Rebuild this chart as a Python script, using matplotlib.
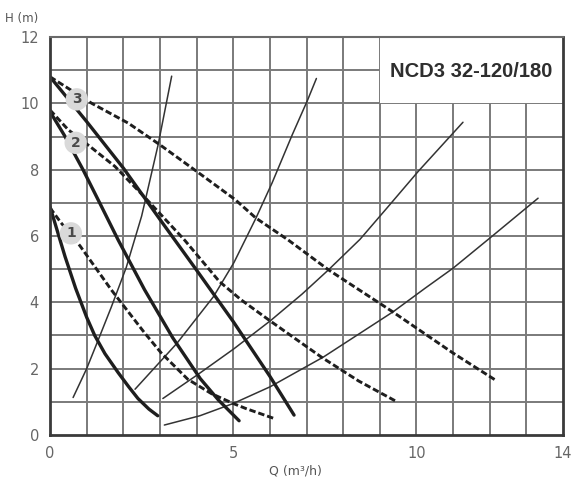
import matplotlib
matplotlib.use("Agg")
import matplotlib.pyplot as plt
from matplotlib.patches import Rectangle

# ---- data ----
x_ticks = [0, 5, 10, 14]
y_ticks = [0, 2, 4, 6, 8, 10, 12]
title_text = "NCD3 32-120/180"

# thick solid pump curves (speed 1, 2, 3)
s1_q = [0, 0.2, 0.41, 0.7, 1.0, 1.22, 1.5, 1.86, 2.15, 2.4, 2.7, 2.94]
s1_h = [6.88, 6.15, 5.38, 4.42, 3.55, 3.0, 2.45, 1.88, 1.45, 1.1, 0.78, 0.58]
s2_q = [0, 0.4, 0.9, 1.4, 1.86, 2.58, 3.35, 4.1, 4.6, 5.16]
s2_h = [9.75, 9.02, 8.0, 6.9, 5.88, 4.38, 2.93, 1.7, 1.05, 0.43]
s3_q = [0, 1.0, 2.0, 3.0, 4.0, 5.0, 6.0, 6.66]
s3_h = [10.8, 9.45, 8.05, 6.5, 4.97, 3.42, 1.77, 0.6]

# dashed curves
d1_q = [0, 0.3, 0.82, 1.67, 2.58, 3.03, 3.76, 4.4, 5.0, 5.34, 6.16]
d1_h = [6.85, 6.4, 5.7, 4.38, 3.08, 2.48, 1.68, 1.25, 0.95, 0.8, 0.48]
d2_q = [0, 0.5, 1.09, 1.77, 2.6, 3.67, 4.62, 5.21, 6.02, 7.43, 8.42, 9.42]
d2_h = [9.8, 9.2, 8.7, 8.1, 7.15, 5.88, 4.63, 4.08, 3.43, 2.33, 1.63, 1.03]
d3_q = [0, 1.14, 2.14, 3.0, 4.0, 5.05, 5.62, 6.5, 7.6, 9.33, 11.0, 12.15]
d3_h = [10.8, 10.0, 9.4, 8.75, 7.95, 7.1, 6.54, 5.88, 4.98, 3.73, 2.47, 1.66]

# thin system curves
a_q = [0.63, 1.0, 1.31, 1.67, 2.08, 2.5, 2.95, 3.32]
a_h = [1.13, 2.0, 2.85, 3.85, 5.05, 6.6, 8.75, 10.82]
b_q = [2.32, 3.46, 4.46, 5.02, 5.62, 6.06, 6.61, 7.03, 7.27]
b_h = [1.38, 2.76, 4.17, 5.2, 6.54, 7.6, 9.05, 10.1, 10.75]
c_q = [3.08, 4.03, 5.02, 6.02, 6.88, 7.6, 8.46, 9.2, 10.05, 11.27]
c_h = [1.1, 1.82, 2.6, 3.45, 4.25, 4.98, 5.9, 6.85, 7.95, 9.43]
e_q = [3.12, 4.09, 5.0, 6.0, 7.46, 9.37, 10.23, 11.0, 12.05, 13.32]
e_h = [0.3, 0.58, 0.95, 1.45, 2.35, 3.72, 4.42, 5.03, 5.98, 7.14]

# speed labels
lab_txt = ["1", "2", "3"]
lab_q = [0.57, 0.7, 0.73]
lab_h = [6.08, 8.81, 10.12]

# ---- figure ----
fig = plt.figure(figsize=(5.71, 4.87), dpi=100)
ax = fig.add_axes([0.0876, 0.1068, 0.8984, 0.8172])
ax.set_xlim(0, 14)
ax.set_ylim(0, 12)

grid_c = "#7a7a7a"
for v in range(1, 14):
    ax.axvline(v, color=grid_c, lw=1.4, zorder=1)
for v in range(1, 12):
    ax.axhline(v, color=grid_c, lw=1.4, zorder=1)

# white title box covering the grid
ax.add_patch(Rectangle((9, 10), 5, 2, facecolor="white", edgecolor="none", zorder=2))
ax.text(11.5, 10.95, title_text, ha="center", va="center", fontsize=14.5,
        fontweight="bold", color="#2e2e2e",
        family=["Liberation Sans", "DejaVu Sans"], zorder=6)

line_c = "#1e1e1e"
thin_c = "#333333"
for q, h in [(a_q, a_h), (b_q, b_h), (c_q, c_h), (e_q, e_h)]:
    ax.plot(q, h, color=thin_c, lw=1.1, zorder=3, solid_capstyle="round",
            solid_joinstyle="round")
for q, h in [(d1_q, d1_h), (d2_q, d2_h), (d3_q, d3_h)]:
    ax.plot(q, h, color=line_c, lw=2.1, ls=(0, (2.2, 1.0)), zorder=4)
for q, h in [(s1_q, s1_h), (s2_q, s2_h), (s3_q, s3_h)]:
    ax.plot(q, h, color=line_c, lw=2.4, zorder=4, solid_capstyle="round",
            solid_joinstyle="round")

for t, q, h in zip(lab_txt, lab_q, lab_h):
    ax.text(q, h, t, ha="center", va="center", fontsize=10, fontweight="bold",
            color="#4a4a4a", zorder=7,
            bbox=dict(boxstyle="circle,pad=0.3", fc="#d9d9d9", ec="none"))

for side in ["left", "bottom", "right"]:
    ax.spines[side].set_color("#3a3a3a")
    ax.spines[side].set_linewidth(2.0)
ax.spines["top"].set_color("#6a6a6a")
ax.spines["top"].set_linewidth(1.5)
for s in ax.spines.values():
    s.set_zorder(8)

ax.set_xticks(x_ticks)
ax.set_yticks(y_ticks)
ax.tick_params(length=0, labelsize=10.5, colors="#666666", pad=8)
ax.set_xlabel("Q (m³/h)", fontsize=9, color="#555555")
ax.xaxis.set_label_coords(0.478, -0.075)
fig.text(0.008, 0.962, "H (m)", fontsize=8.5, color="#555555", ha="left", va="center")

fig.savefig("out.png", dpi=100, facecolor="white")
